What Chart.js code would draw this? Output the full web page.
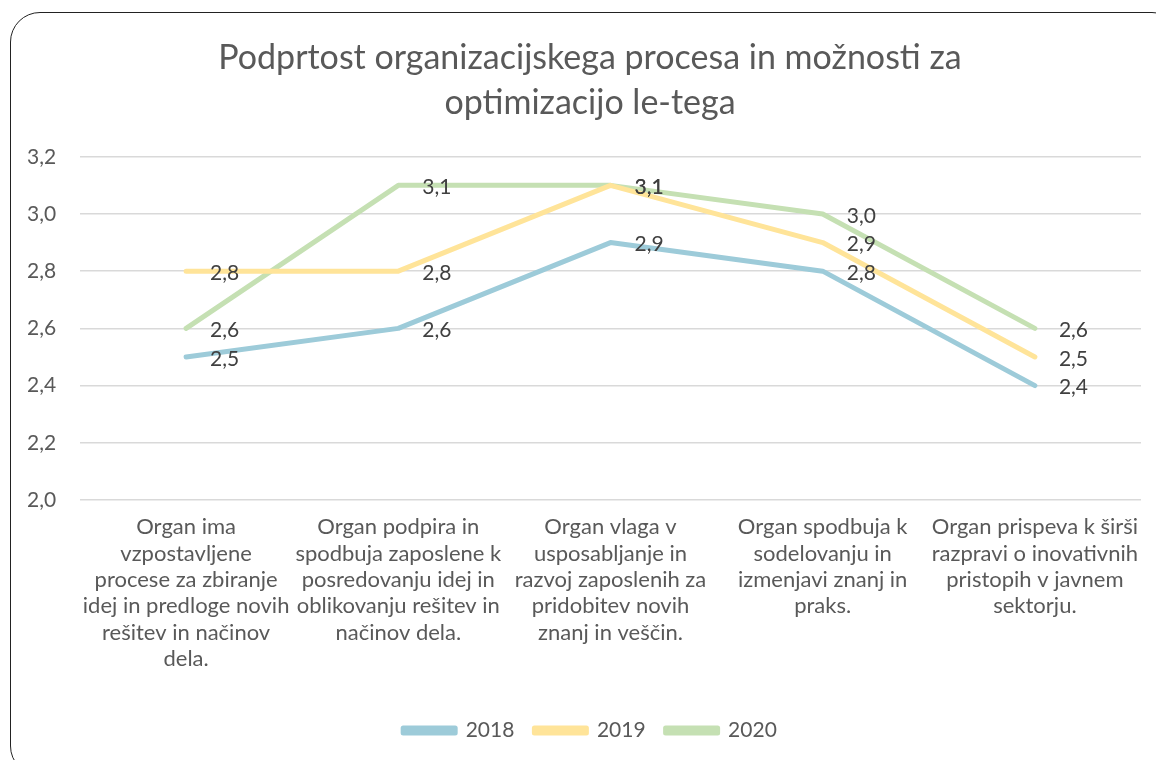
<!DOCTYPE html>
<html>
<head>
<meta charset="utf-8">
<script src="https://cdn.jsdelivr.net/npm/chart.js@4"></script>
<style>
  html, body { margin: 0; padding: 0; background: #fff; overflow: hidden; }
  #frame {
    position: absolute; left: 10px; top: 12px;
    width: 1170px; height: 762px;
    border: 1.5px solid #222; border-radius: 30px;
  }
  #wrap { position: absolute; left: 10px; top: 0; width: 1160px; height: 760px; }
</style>
</head>
<body>
<div id="frame"></div>
<div id="wrap"><canvas id="chart"></canvas></div>
<script>
// categories (wrapped as in the original)
const categories = [
  ['Organ ima', 'vzpostavljene', 'procese za zbiranje', 'idej in predloge novih', 'rešitev in načinov', 'dela.'],
  ['Organ podpira in', 'spodbuja zaposlene k', 'posredovanju idej in', 'oblikovanju rešitev in', 'načinov dela.'],
  ['Organ vlaga v', 'usposabljanje in', 'razvoj zaposlenih za', 'pridobitev novih', 'znanj in veščin.'],
  ['Organ spodbuja k', 'sodelovanju in', 'izmenjavi znanj in', 'praks.'],
  ['Organ prispeva k širši', 'razpravi o inovativnih', 'pristopih v javnem', 'sektorju.']
];

const values2018 = [2.5, 2.6, 2.9, 2.8, 2.4];
const values2019 = [2.8, 2.8, 3.1, 2.9, 2.5];
const values2020 = [2.6, 3.1, 3.1, 3.0, 2.6];

const yTicks = [2.0, 2.2, 2.4, 2.6, 2.8, 3.0, 3.2];

const titleLines = ['Podprtost organizacijskega procesa in možnosti za', 'optimizacijo le-tega'];

const fontFamily = 'Lato, "Open Sans", sans-serif';
const fmt = v => v.toFixed(1).replace('.', ',');

// value labels to the right of each point
const valueLabels = {
  id: 'valueLabels',
  afterDatasetsDraw(chart) {
    const ctx = chart.ctx;
    ctx.save();
    ctx.font = '21px ' + fontFamily;
    ctx.fillStyle = '#404040';
    ctx.textAlign = 'left';
    ctx.textBaseline = 'middle';
    chart.data.datasets.forEach((ds, i) => {
      chart.getDatasetMeta(i).data.forEach((pt, j) => {
        ctx.fillText(fmt(ds.data[j]), pt.x + 24, pt.y + 2);
      });
    });
    ctx.restore();
  }
};

const ctx = document.getElementById('chart').getContext('2d');

new Chart(ctx, {
  type: 'line',
  data: {
    labels: categories,
    datasets: [
      { label: '2018', data: values2018, borderColor: '#9dcbd9', backgroundColor: '#9dcbd9' },
      { label: '2019', data: values2019, borderColor: '#ffe499', backgroundColor: '#ffe499' },
      { label: '2020', data: values2020, borderColor: '#c5e0b3', backgroundColor: '#c5e0b3' }
    ]
  },
  options: {
    responsive: true,
    maintainAspectRatio: false,
    animation: false,
    layout: { padding: { left: 29, right: 29, top: 12, bottom: 9 } },
    elements: {
      line: { borderWidth: 5, tension: 0, borderCapStyle: 'round', borderJoinStyle: 'round' },
      point: { radius: 0, hoverRadius: 0 }
    },
    scales: {
      x: {
        offset: true,
        afterFit: axis => { axis.height = 200; },
        grid: { display: false, drawTicks: false },
        border: { display: false },
        ticks: {
          autoSkip: false, maxRotation: 0, padding: 14,
          color: '#595959',
          font: { family: fontFamily, size: 22, lineHeight: 1.2 }
        }
      },
      y: {
        min: 2.0, max: 3.2,
        afterFit: axis => { axis.width = 41; },
        afterBuildTicks: axis => { axis.ticks = yTicks.map(v => ({ value: v })); },
        grid: { color: '#d9d9d9', lineWidth: 1.5, drawTicks: false },
        border: { display: false },
        ticks: {
          mirror: true,
          padding: -53,
          color: '#595959',
          font: { family: fontFamily, size: 21 },
          callback: v => fmt(v)
        }
      }
    },
    plugins: {
      title: {
        display: true,
        text: titleLines,
        color: '#595959',
        font: { family: fontFamily, size: 34, weight: 'normal', lineHeight: 1.32 },
        padding: { top: 23.5, bottom: 31.5 }
      },
      legend: {
        position: 'bottom',
        labels: {
          color: '#595959',
          font: { family: fontFamily, size: 21 },
          boxWidth: 52, boxHeight: 5,
          padding: 20
        }
      },
      tooltip: { enabled: false }
    }
  },
  plugins: [valueLabels]
});
</script>
</body>
</html>
